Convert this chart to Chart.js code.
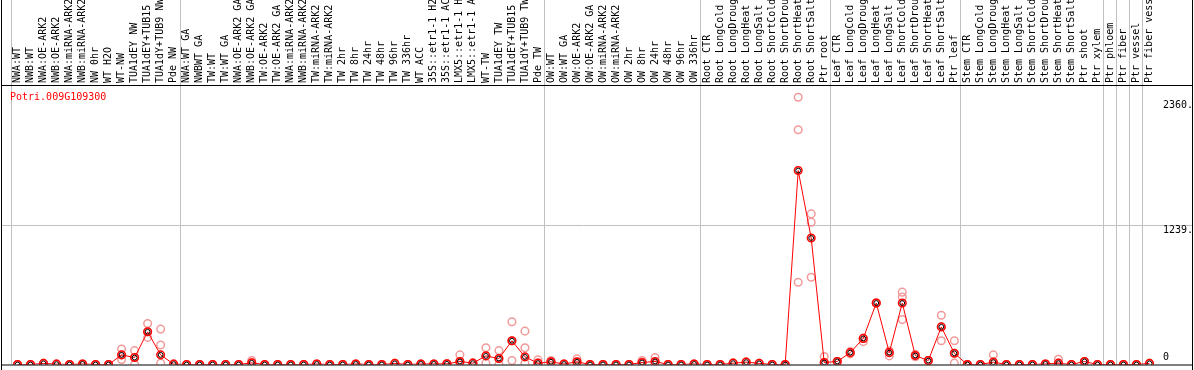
<!DOCTYPE html>
<html>
<head>
<meta charset="utf-8">
<script src="https://cdn.jsdelivr.net/npm/chart.js@4"></script>
<style>
html, body { margin: 0; padding: 0; background: #fff; }
#wrap { width: 1194px; height: 370px; position: relative; }
</style>
</head>
<body>
<div id="wrap"><canvas id="chart"></canvas></div>
<script>
// ---- data ----
const geneId = "Potri.009G109300";

const samples = [
  "NWA:WT", "NWB:WT", "NWA:OE-ARK2", "NWB:OE-ARK2", "NWA:miRNA-ARK2", "NWB:miRNA-ARK2",
  "NW 0hr", "WT H2O", "WT-NW", "TUA1dEY NW", "TUA1dEY+TUB15 NW", "TUA1dY+TUB9 NW", "Pde NW",
  "NWA:WT GA", "NWBWT GA", "TW:WT", "TW:WT GA", "NWA:OE-ARK2 GA", "NWB:OE-ARK2 GA",
  "TW:OE-ARK2", "TW:OE-ARK2 GA", "NWA:miRNA-ARK2 GA", "NWB:miRNA-ARK2 GA", "TW:miRNA-ARK2",
  "TW:miRNA-ARK2 GA", "TW 2hr", "TW 8hr", "TW 24hr", "TW 48hr", "TW 96hr", "TW 336hr",
  "WT ACC", "35S::etr1-1 H2O", "35S::etr1-1 ACC", "LMX5::etr1-1 H2O", "LMX5::etr1-1 ACC",
  "WT-TW", "TUA1dEY TW", "TUA1dEY+TUB15 TW", "TUA1dY+TUB9 TW", "Pde TW",
  "OW:WT", "OW:WT GA", "OW:OE-ARK2", "OW:OE-ARK2 GA", "OW:miRNA-ARK2", "OW:miRNA-ARK2 GA",
  "OW 2hr", "OW 8hr", "OW 24hr", "OW 48hr", "OW 96hr", "OW 336hr",
  "Root CTR", "Root LongCold", "Root LongDrought", "Root LongHeat", "Root LongSalt",
  "Root ShortCold", "Root ShortDrought", "Root ShortHeat", "Root ShortSalt", "Ptr root",
  "Leaf CTR", "Leaf LongCold", "Leaf LongDrought", "Leaf LongHeat", "Leaf LongSalt",
  "Leaf ShortCold", "Leaf ShortDrought", "Leaf ShortHeat", "Leaf ShortSalt", "Ptr leaf",
  "Stem CTR", "Stem LongCold", "Stem LongDrought", "Stem LongHeat", "Stem LongSalt",
  "Stem ShortCold", "Stem ShortDrought", "Stem ShortHeat", "Stem ShortSalt", "Ptr shoot",
  "Ptr xylem", "Ptr phloem", "Ptr fiber", "Ptr vessel", "Ptr fiber vessel"
];

const meanExpr = [
  0, 0, 10, 3, 0, 5, 0, 0, 86, 62,
  292, 86, 3, 0, 0, 0, 0, 0, 15, 0,
  0, 0, 0, 4, 0, 0, 5, 0, 0, 10,
  0, 5, 5, 6, 27, 12, 77, 53, 212, 68,
  12, 24, 4, 24, 0, 0, 0, 0, 18, 27,
  0, 0, 5, 0, 0, 12, 21, 10, 0, 0,
  1732, 1130, 18, 27, 106, 233, 549, 106, 549, 80,
  35, 336, 100, 0, 0, 21, 0, 0, 0, 5,
  12, 0, 27, 0, 0, 0, 0, 10
];

// replicate values
const rep1 = [
  0, 0, 10, 3, 0, 5, 0, 0, 139, 124,
  366, 316, 3, 0, 0, 0, 0, 0, 35, 0,
  0, 0, 0, 4, 0, 0, 5, 0, 0, 10,
  0, 5, 5, 6, 86, 12, 150, 124, 381, 298,
  41, 35, 4, 50, 0, 0, 0, 0, 35, 62,
  0, 0, 5, 0, 0, 12, 21, 10, 0, 0,
  2387, 1345, 71, 27, 95, 204, 549, 77, 646, 70,
  35, 440, 212, 0, 0, 86, 0, 0, 0, 5,
  47, 0, 27, 0, 0, 0, 0, 10
];
const rep2 = [
  0, 0, 10, 3, 0, 5, 0, 0, 44, 0,
  242, 174, 3, 0, 0, 0, 0, 0, 10, 0,
  0, 0, 0, 4, 0, 0, 5, 0, 0, 10,
  0, 5, 5, 6, 10, 12, 12, 0, 35, 150,
  5, 15, 4, 10, 0, 0, 0, 0, 10, 10,
  0, 0, 5, 0, 0, 12, 21, 10, 0, 0,
  2097, 1271, 0, 27, 115, 233, 549, 106, 602, 90,
  35, 336, 12, 0, 0, 10, 0, 0, 0, 5,
  5, 0, 27, 0, 0, 0, 0, 10
];
const rep3 = [
  0, 0, 10, 3, 0, 5, 0, 0, 86, 62,
  292, 12, 3, 0, 0, 0, 0, 0, 15, 0,
  0, 0, 0, 4, 0, 0, 5, 0, 0, 10,
  0, 5, 5, 6, 27, 12, 77, 53, 212, 12,
  12, 24, 4, 24, 0, 0, 0, 0, 18, 27,
  0, 0, 5, 0, 0, 12, 21, 10, 0, 0,
  734, 779, 18, 27, 106, 233, 549, 120, 401, 80,
  35, 212, 100, 0, 0, 21, 0, 0, 0, 5,
  12, 0, 27, 0, 0, 0, 0, 10
];

const yTicks = [0, 1239, 2360];
const yTickLabels = ["0", "1239.", "2360."];
const yGridValues = [1239];
const yMax = 2496;
// sample-group separators (index of the gap before a sample)
const groupEdges = [0, 13, 41, 53, 63, 73, 84, 85, 86, 87, 88];

// ---- style ----
const MONO = "'DejaVu Sans Mono', 'Liberation Mono', monospace";
Chart.defaults.font.family = MONO;
Chart.defaults.font.size = 10;
Chart.defaults.color = "#000";

const GRID = "#c0c0c0";
const NONE = "rgba(0,0,0,0)";

// frame + gene id
const framePlugin = {
  id: "frame",
  afterDraw(chart) {
    const { ctx, chartArea, width, height } = chart;
    ctx.save();
    ctx.strokeStyle = "#000";
    ctx.lineWidth = 1;
    ctx.beginPath();
    ctx.moveTo(1.5, 0); ctx.lineTo(1.5, height);
    ctx.moveTo(width - 1.5, 0); ctx.lineTo(width - 1.5, height);
    ctx.moveTo(1, chartArea.top + 0.5); ctx.lineTo(width - 1, chartArea.top + 0.5);
    ctx.moveTo(1, chartArea.bottom + 0.5); ctx.lineTo(width - 1, chartArea.bottom + 0.5);
    ctx.stroke();
    ctx.fillStyle = "#ff0000";
    ctx.font = "10px " + MONO;
    ctx.textBaseline = "middle";
    ctx.fillText(geneId, 10, chartArea.top + 12);
    ctx.restore();
  }
};

const repStyle = r => ({
  data: r,
  showLine: false,
  pointRadius: 3.8,
  pointBorderWidth: 1.5,
  pointBorderColor: "#f29a9a",
  pointBackgroundColor: NONE
});

const tickValues = s => { s.ticks = yTicks.map(v => ({ value: v })); };

new Chart(document.getElementById("chart"), {
  type: "line",
  data: {
    labels: samples,
    datasets: [
      {
        data: meanExpr,
        showLine: false,
        pointRadius: 2.4,
        pointBorderWidth: 1,
        pointBorderColor: "#000",
        pointBackgroundColor: NONE
      },
      {
        data: meanExpr,
        borderColor: "#ff0000",
        borderWidth: 1,
        fill: false,
        tension: 0,
        pointRadius: 3.8,
        pointBorderWidth: 1.5,
        pointBorderColor: "#ff0000",
        pointBackgroundColor: NONE
      },
      repStyle(rep1),
      repStyle(rep2),
      repStyle(rep3)
    ]
  },
  options: {
    responsive: true,
    maintainAspectRatio: false,
    animation: false,
    devicePixelRatio: 1,
    events: [],
    layout: { padding: { left: 11, right: 2, top: 0, bottom: 1 } },
    plugins: {
      legend: { display: false },
      tooltip: { enabled: false }
    },
    scales: {
      x: {
        type: "category",
        position: "top",
        offset: true,
        grid: {
          offset: true,
          tickLength: 85,
          lineWidth: 1,
          color: ctx => groupEdges.includes(ctx.index) ? GRID : NONE
        },
        border: { display: false },
        ticks: {
          autoSkip: false,
          minRotation: 90,
          maxRotation: 90,
          padding: -83,
          labelOffset: 12,
          color: "#000"
        },
        afterFit: s => { s.height = 85; }
      },
      y: {
        position: "right",
        min: 0,
        max: yMax,
        afterBuildTicks: tickValues,
        grid: {
          tickLength: 36,
          lineWidth: 1,
          color: ctx => ctx.tick && yGridValues.includes(ctx.tick.value) ? GRID : NONE
        },
        border: { display: false },
        ticks: {
          padding: -29,
          labelOffset: 5,
          color: "#000",
          callback: v => {
            const lbl = yTickLabels[yTicks.indexOf(v)];
            return v === 0 ? [lbl, "", ""] : lbl;
          }
        },
        afterFit: s => { s.width = 36; }
      },
      yl: {
        position: "left",
        min: 0,
        max: yMax,
        afterBuildTicks: tickValues,
        grid: {
          drawOnChartArea: false,
          tickLength: 10,
          lineWidth: 1,
          color: ctx => ctx.tick && yGridValues.includes(ctx.tick.value) ? GRID : NONE
        },
        border: { display: false },
        ticks: { display: false },
        afterFit: s => { s.width = 0; }
      }
    }
  },
  plugins: [framePlugin]
});
</script>
</body>
</html>
